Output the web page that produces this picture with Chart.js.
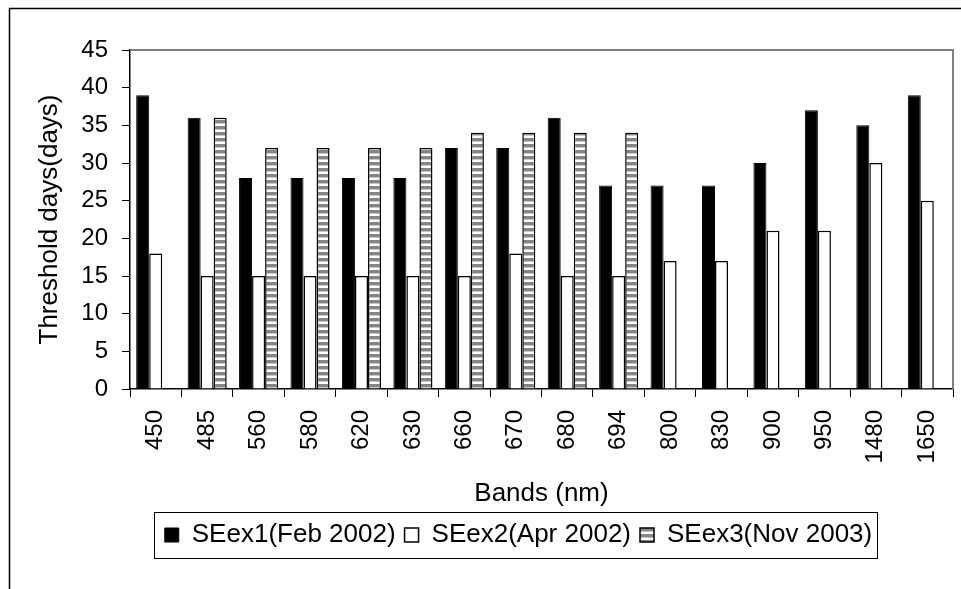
<!DOCTYPE html>
<html>
<head>
<meta charset="utf-8">
<script src="https://cdn.jsdelivr.net/npm/chart.js@4.4.1/dist/chart.umd.min.js"></script>
<style>
  body { margin: 0; background: #fff; }
  #wrap { width: 961px; height: 589px; }
</style>
</head>
<body>
<div id="wrap"><canvas id="mainChart" width="961" height="589"></canvas></div>
<script>
const bands = ['450', '485', '560', '580', '620', '630', '660', '670', '680', '694', '800', '830', '900', '950', '1480', '1650'];
const seex1 = [39, 36, 28, 28, 28, 28, 32, 32, 36, 27, 27, 27, 30, 37, 35, 39];
const seex2 = [18, 15, 15, 15, 15, 15, 15, 18, 15, 15, 17, 17, 21, 21, 30, 25];
const seex3 = [null, 36, 32, 32, 32, 32, 34, 34, 34, 34, null, null, null, null, null, null];
const yTicks = [0, 5, 10, 15, 20, 25, 30, 35, 40, 45];

const FONT = "'Liberation Sans', Arial, sans-serif";

// horizontal stripe fill used by the third series
function stripes() {
    const c = document.createElement('canvas');
    c.width = 6; c.height = 6;
    const g = c.getContext('2d');
    g.fillStyle = '#ffffff';
    g.fillRect(0, 0, 6, 6);
    g.fillStyle = '#858585';
    g.fillRect(0, 0, 6, 3);
    g.fillStyle = '#c8c8c8';
    g.fillRect(0, 3, 6, 1);
    return g.createPattern(c, 'repeat');
}

const LEGEND_SHIFT = 42;

const framePlugin = {
    id: 'frame',
    afterLayout(chart) {
        const lg = chart.legend;
        lg.left += LEGEND_SHIFT;
        lg.right += LEGEND_SHIFT;
    },
    beforeDatasetsDraw(chart) {
        const {ctx, chartArea: a} = chart;
        ctx.save();
        ctx.strokeStyle = '#808080';
        ctx.lineWidth = 2;
        ctx.beginPath();
        ctx.moveTo(a.left, a.top);
        ctx.lineTo(a.right, a.top);
        ctx.lineTo(a.right, a.bottom);
        ctx.stroke();
        ctx.restore();
    },
    afterDraw(chart) {
        const {ctx} = chart;
        const lg = chart.legend;
        const pad = lg.options.labels.padding;
        const lw = lg.lineWidths[0];
        const x0 = (lg.left + pad + lg.right - lw) / 2;
        const fs = lg.options.labels.font.size;
        const bh = 46;
        const cy = lg.top + pad + fs / 2;
        ctx.save();
        ctx.strokeStyle = '#000';
        ctx.lineWidth = 1;
        ctx.strokeRect(Math.round(x0 - 11) + 0.5, Math.round(cy - bh / 2) + 0.5, Math.round(lw - pad + 16), bh);
        // outer chart border
        ctx.beginPath();
        ctx.moveTo(9.5, 700);
        ctx.lineTo(9.5, 8.5);
        ctx.lineTo(970, 8.5);
        ctx.lineWidth = 1.5;
        ctx.stroke();
        ctx.restore();
    }
};

const ctx = document.getElementById('mainChart').getContext('2d');

new Chart(ctx, {
    type: 'bar',
    data: {
        labels: bands,
        datasets: [{
            label: 'SEex1(Feb 2002)',
            data: seex1,
            backgroundColor: '#000000',
            borderColor: '#000000',
            borderWidth: 1
        }, {
            label: 'SEex2(Apr 2002)',
            data: seex2,
            backgroundColor: '#ffffff',
            borderColor: '#000000',
            borderWidth: 1.5
        }, {
            label: 'SEex3(Nov 2003)',
            data: seex3,
            backgroundColor: stripes(),
            borderColor: '#000000',
            borderWidth: 1.5
        }]
    },
    options: {
        responsive: false,
        animation: false,
        layout: {
            padding: { top: 50, right: 8, bottom: 31, left: 0 }
        },
        datasets: {
            bar: {
                barPercentage: 1,
                categoryPercentage: 0.76
            }
        },
        plugins: {
            legend: {
                position: 'bottom',
                labels: {
                    color: '#000',
                    boxWidth: 14,
                    boxHeight: 14,
                    padding: 9,
                    font: { size: 26, family: FONT }
                }
            },
            tooltip: { enabled: false }
        },
        scales: {
            x: {
                afterFit: (scale) => {
                    scale.height = 124;
                    scale.paddingLeft = 0;
                    scale.paddingRight = 0;
                },
                grid: {
                    display: true,
                    drawOnChartArea: false,
                    color: '#000',
                    tickLength: 8,
                    tickWidth: 1
                },
                border: { color: '#000', width: 1.5 },
                ticks: {
                    color: '#000',
                    minRotation: 90,
                    maxRotation: 90,
                    autoSkip: false,
                    padding: 13,
                    font: { size: 24, family: FONT }
                },
                title: {
                    display: true,
                    text: 'Bands (nm)',
                    color: '#000',
                    padding: { top: 0, bottom: 4 },
                    font: { size: 26, family: FONT, lineHeight: 1.2 }
                }
            },
            y: {
                min: 0,
                max: 45,
                afterFit: (scale) => { scale.width = 130; },
                afterBuildTicks: (scale) => { scale.ticks = yTicks.map(v => ({ value: v })); },
                grid: {
                    display: true,
                    drawOnChartArea: false,
                    color: '#000',
                    tickLength: 8,
                    tickWidth: 1
                },
                border: { color: '#000', width: 1.5 },
                ticks: {
                    color: '#000',
                    padding: 14,
                    font: { size: 24, family: FONT }
                },
                title: {
                    display: true,
                    text: 'Threshold days(days)',
                    color: '#000',
                    padding: { top: 34, bottom: 0 },
                    font: { size: 26, family: FONT, lineHeight: 1.2 }
                }
            }
        }
    },
    plugins: [framePlugin]
});
</script>
</body>
</html>
